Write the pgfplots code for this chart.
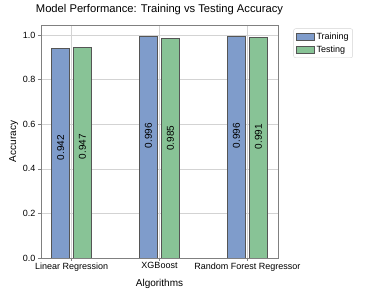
\documentclass[border=0pt]{standalone}
\usepackage{pgfplots}
\pgfplotsset{compat=1.18}
\usepackage{fontspec}
\setmainfont{Liberation Sans}
\definecolor{trainc}{HTML}{7F9CCB}
\definecolor{testc}{HTML}{88C396}
\definecolor{edgec}{HTML}{555555}
\definecolor{gridc}{HTML}{D3D3D3}
\definecolor{framec}{HTML}{808080}
\begin{document}
\begin{tikzpicture}
\path[use as bounding box] (0,0) rectangle (370pt,296pt);
\begin{axis}[
  at={(41pt,38pt)}, anchor=south west,
  scale only axis, width=237pt, height=233pt,
  xmin=-0.3475, xmax=2.3475, ymin=0, ymax=1.0458,
  xtick={0,1,2},
  xticklabels={Linear Regression,XGBoost,Random Forest Regressor},
  ytick={0,0.2,0.4,0.6,0.8,1.0},
  yticklabel style={/pgf/number format/fixed,/pgf/number format/fixed zerofill,/pgf/number format/precision=1},
  /pgf/number format/assume math mode=true,
  tick label style={font=\fontsize{9}{10}\selectfont, black},
  xticklabel style={yshift=2pt},
  yticklabel style={xshift=1pt},
  major tick length=3pt,
  tick align=outside,
  tick pos=left,
  major tick style={framec, line width=0.6pt},
  axis line style={framec, line width=0.8pt},
  grid=major,
  major grid style={gridc, line width=0.6pt},
  axis on top=false,
  xlabel={Algorithms}, ylabel={Accuracy},
  label style={font=\fontsize{10}{12}\selectfont},
  xlabel style={yshift=-1pt},
  ylabel style={yshift=-2pt},
  title={Model Performance: Training vs Testing Accuracy},
  title style={font=\fontsize{11.2}{13}\selectfont, yshift=1pt},
  legend style={at={(1.065,0.985)}, anchor=north west, draw=gridc, rounded corners=2pt,
    font=\fontsize{9}{11}\selectfont, inner sep=2pt, row sep=1pt},
  legend cell align=left,
  legend image code/.code={\draw[#1, sharp corners, draw=edgec, line width=0.4pt] (0cm,-0.12cm) rectangle (0.65cm,0.12cm);},
]
\addplot[ybar, bar width=0.2, bar shift=0pt, fill=trainc, draw=edgec, line width=0.6pt]
  coordinates {(-0.125,0.942) (0.875,0.996) (1.875,0.996)};
\addlegendentry{Training}
\addplot[ybar, bar width=0.2, bar shift=0pt, fill=testc, draw=edgec, line width=0.6pt]
  coordinates {(0.125,0.947) (1.125,0.985) (2.125,0.991)};
\addlegendentry{Testing}
\addplot[draw=none, mark=none, forget plot,
  nodes near coords, point meta=explicit symbolic,
  every node near coord/.append style={rotate=90, anchor=center, black, font=\fontsize{10}{12}\selectfont}]
  coordinates {(-0.125,0.495) [0.942] (0.875,0.549) [0.996] (1.875,0.549) [0.996]
               (0.125,0.500) [0.947] (1.125,0.538) [0.985] (2.125,0.544) [0.991]};
\end{axis}
\end{tikzpicture}
\end{document}
